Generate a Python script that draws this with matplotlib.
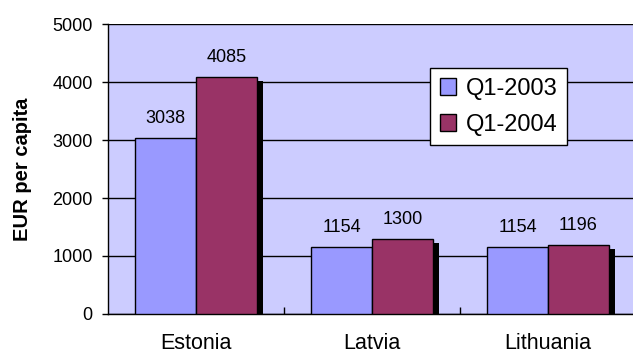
"""Quarterly EUR per capita bar chart"""

import numpy as np
import matplotlib
matplotlib.use("Agg")
import matplotlib.pyplot as plt
import matplotlib.patheffects as pe

countries = ["Estonia", "Latvia", "Lithuania"]
q1_2003 = [3038, 1154, 1154]
q1_2004 = [4085, 1300, 1196]
series_labels = ["Q1-2003", "Q1-2004"]
y_ticks = [0, 1000, 2000, 3000, 4000, 5000]

plt.rcParams["font.family"] = ["Liberation Sans", "DejaVu Sans"]

fig = plt.figure(figsize=(6.33, 3.53), dpi=100)
ax = fig.add_axes([108 / 633, 39 / 353, 528 / 633, 290 / 353])
ax.set_facecolor("#CCCCFF")

x = np.arange(len(countries))
width = 0.347
shadow = [pe.SimplePatchShadow(offset=(4.5, -3), shadow_rgbFace="black", alpha=1.0), pe.Normal()]

bars_a = ax.bar(x - width / 2, q1_2003, width, color="#9999FF", edgecolor="black",
                linewidth=1, label=series_labels[0], zorder=3)
bars_b = ax.bar(x + width / 2, q1_2004, width, color="#993366", edgecolor="black",
                linewidth=1, label=series_labels[1], zorder=4)
for b in list(bars_a) + list(bars_b):
    b.set_path_effects(shadow)

for bars in (bars_a, bars_b):
    for b in bars:
        ax.annotate(f"{int(b.get_height())}", (b.get_x() + b.get_width() / 2, b.get_height()),
                    xytext=(0, 14), textcoords="offset points", ha="center", va="center",
                    fontsize=13)

ax.set_xlim(-0.5, 2.5)
ax.set_ylim(0, 5000)
ax.set_yticks(y_ticks)
ax.tick_params(axis="y", direction="out", length=4, width=1, labelsize=13, pad=7)
ax.yaxis.grid(True, color="black", linewidth=1)
ax.set_axisbelow(True)

ax.set_xticks(x)
ax.set_xticklabels(countries, fontsize=15.5)
ax.tick_params(axis="x", length=0, pad=14)
ax.set_xticks([0.5, 1.5], minor=True)
ax.tick_params(axis="x", which="minor", direction="in", length=5, width=1)

for side in ("top", "right"):
    ax.spines[side].set_visible(False)
for side in ("left", "bottom"):
    ax.spines[side].set_linewidth(1)

ax.set_ylabel("EUR per capita", fontsize=14.5, fontweight="bold", labelpad=15)

leg = ax.legend(loc="upper left", bbox_to_anchor=(0.61, 0.848), fontsize=17,
                frameon=True, fancybox=False, edgecolor="black", facecolor="white",
                framealpha=1, handlelength=0.7, handleheight=0.7, handletextpad=0.4,
                labelspacing=0.6, borderpad=0.4, borderaxespad=0)
leg.get_frame().set_linewidth(1)
for h in leg.legend_handles:
    h.set_path_effects([])

fig.savefig("out.png", dpi=100)
